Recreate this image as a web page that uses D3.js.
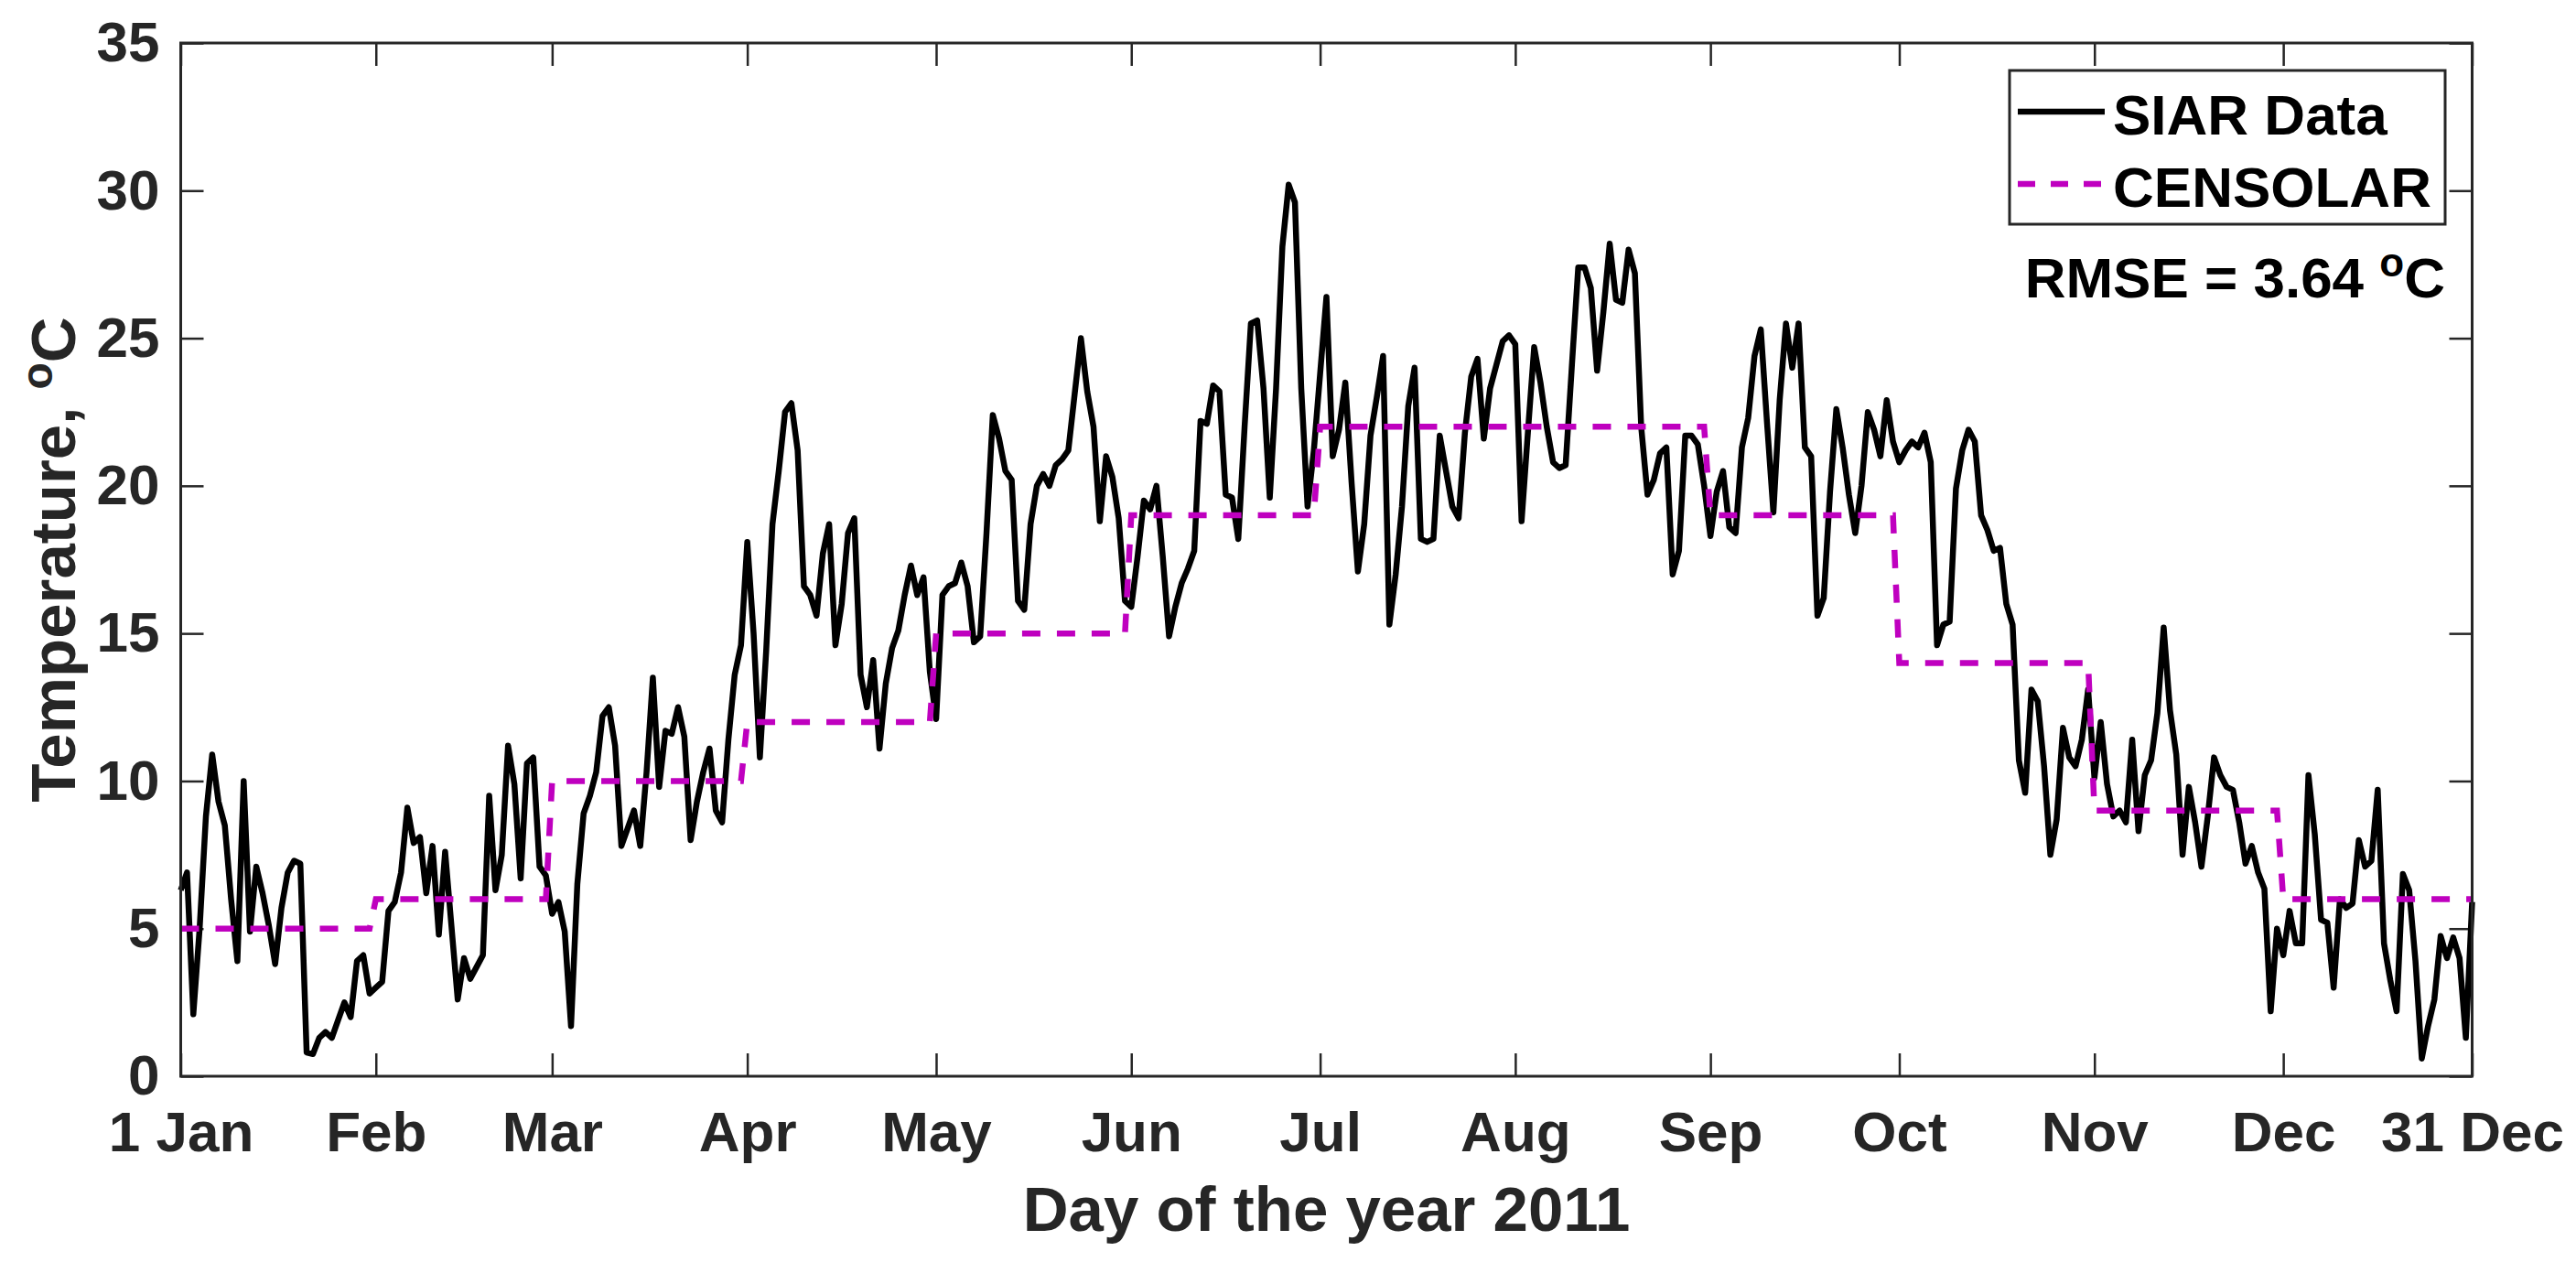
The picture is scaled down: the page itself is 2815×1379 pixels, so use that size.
<!DOCTYPE html>
<html>
<head>
<meta charset="utf-8">
<script src="https://cdn.jsdelivr.net/npm/d3@7"></script>
<style>
  body { margin: 0; background: #fff; }
  text { font-family: "Liberation Sans", Arial, sans-serif; font-weight: bold; }
</style>
</head>
<body>
<div id="chart"></div>
<script>
// tick positions (day index) and labels
var monthStarts = [0, 31, 59, 90, 120, 151, 181, 212, 243, 273, 304, 334, 364];
var tickLabels = ["1 Jan", "Feb", "Mar", "Apr", "May", "Jun", "Jul", "Aug", "Sep", "Oct", "Nov", "Dec", "31 Dec"];
var monthDays = [31, 28, 31, 30, 31, 30, 31, 31, 30, 31, 30, 31];
var yTicks = [0, 5, 10, 15, 20, 25, 30, 35];

// CENSOLAR monthly mean temperature
var censolarMonthly = [5, 6, 10, 12, 15, 19, 22, 22, 19, 14, 9, 6];

// SIAR daily mean temperature, one array per month
var siarJan = [6.3, 6.9, 2.1, 5.0, 8.8, 10.9, 9.3, 8.5, 6.0, 3.9, 10.0, 4.9, 7.1, 6.2, 5.1, 3.8, 5.7, 6.9, 7.3, 7.2, 0.8, 0.75, 1.3, 1.5, 1.3, 1.9, 2.5, 2.0, 3.9, 4.1, 2.8];
var siarFeb = [3.0, 3.2, 5.6, 5.9, 6.9, 9.1, 7.9, 8.1, 6.2, 7.8, 4.8, 7.6, 5.1, 2.6, 4.0, 3.3, 3.7, 4.1, 9.5, 6.3, 7.5, 11.2, 9.9, 6.7, 10.6, 10.8, 7.1, 6.8];
var siarMar = [5.5, 5.9, 4.9, 1.7, 6.5, 8.9, 9.5, 10.3, 12.2, 12.5, 11.2, 7.8, 8.4, 9.0, 7.8, 10.3, 13.5, 9.8, 11.7, 11.6, 12.5, 11.5, 8.0, 9.3, 10.3, 11.1, 9.0, 8.6, 11.4, 13.6, 14.6];
var siarApr = [18.1, 15.0, 10.8, 14.4, 18.7, 20.5, 22.5, 22.8, 21.2, 16.6, 16.3, 15.6, 17.7, 18.7, 14.6, 16.0, 18.4, 18.9, 13.6, 12.5, 14.1, 11.1, 13.3, 14.5, 15.1, 16.3, 17.3, 16.3, 16.9, 13.7];
var siarMay = [12.1, 16.3, 16.6, 16.7, 17.4, 16.6, 14.7, 14.9, 18.4, 22.4, 21.6, 20.5, 20.2, 16.1, 15.8, 18.7, 20.0, 20.4, 20.0, 20.7, 20.9, 21.2, 23.1, 25.0, 23.2, 22.0, 18.8, 21.0, 20.3, 18.9, 16.1];
var siarJun = [15.9, 17.6, 19.5, 19.2, 20.0, 17.6, 14.9, 15.9, 16.7, 17.2, 17.8, 22.2, 22.1, 23.4, 23.2, 19.7, 19.6, 18.2, 22.0, 25.5, 25.6, 23.3, 19.6, 23.3, 28.1, 30.2, 29.6, 23.3, 19.3, 21.2];
var siarJul = [23.8, 26.4, 21.0, 21.9, 23.5, 20.1, 17.1, 18.7, 21.7, 23.0, 24.4, 15.3, 17.0, 19.3, 22.7, 24.0, 18.2, 18.1, 18.2, 21.7, 20.5, 19.3, 18.9, 21.8, 23.7, 24.3, 21.6, 23.3, 24.1, 24.9, 25.1];
var siarAug = [24.8, 18.8, 21.8, 24.7, 23.5, 22.0, 20.8, 20.6, 20.7, 24.1, 27.4, 27.4, 26.7, 23.9, 25.9, 28.2, 26.3, 26.2, 28.0, 27.2, 22.0, 19.7, 20.2, 21.1, 21.3, 17.0, 17.8, 21.7, 21.7, 21.4, 20.0];
var siarSep = [18.3, 19.8, 20.5, 18.6, 18.4, 21.3, 22.3, 24.4, 25.3, 22.1, 19.1, 22.9, 25.5, 24.0, 25.5, 21.3, 21.0, 15.6, 16.2, 19.8, 22.6, 21.3, 19.7, 18.4, 20.0, 22.5, 21.9, 21.0, 22.9, 21.5];
var siarOct = [20.8, 21.2, 21.5, 21.3, 21.8, 20.8, 14.6, 15.3, 15.4, 19.9, 21.2, 21.9, 21.5, 19.0, 18.5, 17.8, 17.9, 16.0, 15.3, 10.7, 9.6, 13.1, 12.7, 10.5, 7.5, 8.7, 11.8, 10.8, 10.5, 11.4, 13.1];
var siarNov = [10.1, 12.0, 9.9, 8.8, 9.0, 8.6, 11.4, 8.3, 10.2, 10.7, 12.3, 15.2, 12.4, 10.9, 7.5, 9.8, 8.6, 7.1, 8.8, 10.8, 10.2, 9.8, 9.7, 8.6, 7.2, 7.8, 6.9, 6.35, 2.2, 5.0];
var siarDec = [4.1, 5.6, 4.5, 4.5, 10.2, 8.2, 5.3, 5.2, 3.0, 6.0, 5.7, 5.85, 8.0, 7.1, 7.3, 9.7, 4.5, 3.25, 2.2, 6.85, 6.3, 3.9, 0.6, 1.7, 2.6, 4.75, 4.0, 4.7, 4.0, 1.3, 5.9];

var siar = [].concat(siarJan, siarFeb, siarMar, siarApr, siarMay, siarJun,
                     siarJul, siarAug, siarSep, siarOct, siarNov, siarDec);

// daily CENSOLAR series: each day gets its month's value
var censolar = [];
monthDays.forEach(function(n, m) {
  for (var k = 0; k < n; k++) censolar.push(censolarMonthly[m]);
});

var w = 2815, h = 1379;
var plotLeft = 197.5, plotRight = 2701.5, plotTop = 47, plotBottom = 1176;
var axisColor = "#262626";
var lineW = 6.5;

var svg = d3.select("#chart").append("svg")
  .attr("width", w)
  .attr("height", h);

var x = d3.scaleLinear().domain([0, 364]).range([plotLeft, plotRight]);
var y = d3.scaleLinear().domain([0, 35]).range([plotBottom, plotTop]);

var line = d3.line()
  .x(function(d, i) { return x(i); })
  .y(function(d) { return y(d); });

// axes, MATLAB style: ticks pointing in, box all round
function styleAxis(g, size) {
  g.select(".domain").remove();
  g.selectAll(".tick line").attr("stroke", axisColor).attr("stroke-width", 2.5);
  g.selectAll(".tick text")
    .attr("fill", axisColor)
    .attr("font-size", size)
    .attr("font-family", "'Liberation Sans', Arial, sans-serif")
    .attr("font-weight", "bold");
}

svg.append("g")
  .attr("transform", "translate(0," + plotBottom + ")")
  .call(d3.axisBottom(x).tickValues(monthStarts)
    .tickFormat(function(d, i) { return tickLabels[i]; })
    .tickSizeInner(-25).tickSizeOuter(0).tickPadding(38))
  .call(styleAxis, 62);

svg.append("g")
  .attr("transform", "translate(0," + plotTop + ")")
  .call(d3.axisTop(x).tickValues(monthStarts).tickFormat("")
    .tickSizeInner(-25).tickSizeOuter(0))
  .call(styleAxis, 62);

svg.append("g")
  .attr("transform", "translate(" + plotLeft + ",0)")
  .call(d3.axisLeft(y).tickValues(yTicks)
    .tickSizeInner(-25).tickSizeOuter(0).tickPadding(23))
  .call(styleAxis, 62);

svg.append("g")
  .attr("transform", "translate(" + plotRight + ",0)")
  .call(d3.axisRight(y).tickValues(yTicks).tickFormat("")
    .tickSizeInner(-25).tickSizeOuter(0))
  .call(styleAxis, 62);

// data lines
svg.append("path")
  .datum(siar)
  .attr("d", line)
  .attr("fill", "none")
  .attr("stroke", "#000")
  .attr("stroke-width", lineW)
  .attr("stroke-linejoin", "round");

svg.append("path")
  .datum(censolar)
  .attr("d", line)
  .attr("fill", "none")
  .attr("stroke", "#bf00bf")
  .attr("stroke-width", lineW)
  .attr("stroke-dasharray", "20,18");

// box
svg.append("rect")
  .attr("x", plotLeft).attr("y", plotTop)
  .attr("width", plotRight - plotLeft).attr("height", plotBottom - plotTop)
  .attr("fill", "none")
  .attr("stroke", axisColor)
  .attr("stroke-width", 3);

// axis titles
svg.append("text")
  .attr("x", (plotLeft + plotRight) / 2)
  .attr("y", 1345)
  .attr("text-anchor", "middle")
  .attr("font-size", 69)
  .attr("fill", axisColor)
  .text("Day of the year 2011");

var yl = svg.append("text")
  .attr("transform", "translate(82," + ((plotTop + plotBottom) / 2) + ") rotate(-90)")
  .attr("text-anchor", "middle")
  .attr("font-size", 69)
  .attr("fill", axisColor);
yl.append("tspan").text("Temperature, ");
yl.append("tspan").attr("font-size", 48).attr("dy", -25).text("o");
yl.append("tspan").attr("dy", 25).text("C");

// legend
var legend = svg.append("g");
legend.append("rect")
  .attr("x", 2196).attr("y", 77)
  .attr("width", 476).attr("height", 168)
  .attr("fill", "#fff")
  .attr("stroke", axisColor)
  .attr("stroke-width", 3);

legend.append("line")
  .attr("x1", 2205).attr("x2", 2300)
  .attr("y1", 122).attr("y2", 122)
  .attr("stroke", "#000").attr("stroke-width", lineW);
legend.append("line")
  .attr("x1", 2205).attr("x2", 2300)
  .attr("y1", 201).attr("y2", 201)
  .attr("stroke", "#bf00bf").attr("stroke-width", lineW)
  .attr("stroke-dasharray", "19,17");

legend.append("text")
  .attr("x", 2309).attr("y", 147)
  .attr("font-size", 62).attr("fill", "#000")
  .text("SIAR Data");
legend.append("text")
  .attr("x", 2309).attr("y", 226)
  .attr("font-size", 62).attr("fill", "#000")
  .text("CENSOLAR");

// RMSE annotation
var rmse = svg.append("text")
  .attr("x", 2672).attr("y", 325)
  .attr("text-anchor", "end")
  .attr("font-size", 62)
  .attr("fill", "#000");
rmse.append("tspan").text("RMSE = 3.64 ");
rmse.append("tspan").attr("font-size", 44).attr("dy", -23).text("o");
rmse.append("tspan").attr("dy", 23).text("C");
</script>
</body>
</html>
